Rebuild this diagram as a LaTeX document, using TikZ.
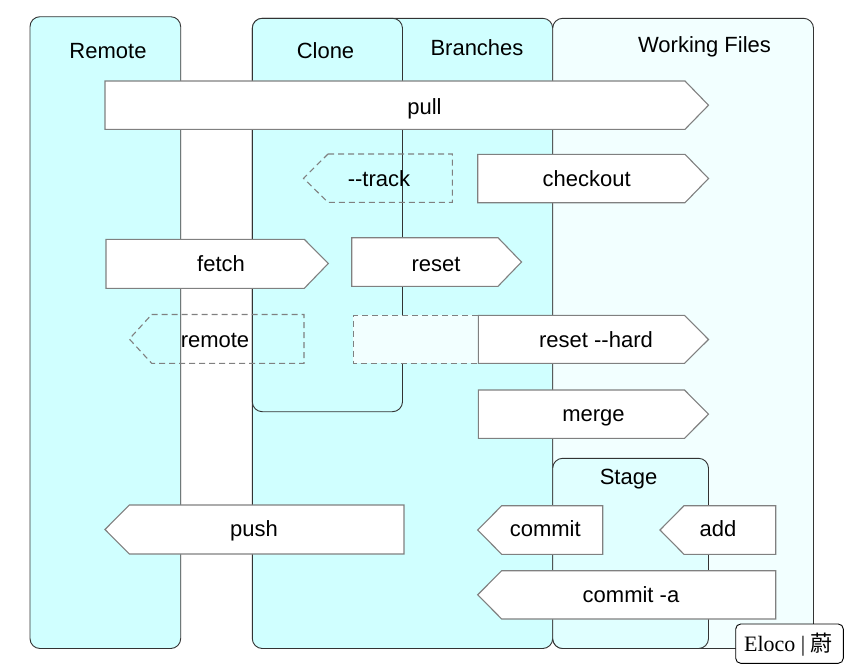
\documentclass[tikz,border=0pt]{standalone}
\usepackage{fontspec}
\setmainfont{Liberation Sans}
\newfontfamily\wmserif{Liberation Serif}
\newfontfamily\cjk{Noto Sans CJK SC}
\definecolor{areacyan}{HTML}{D0FFFF}
\definecolor{workfill}{HTML}{F2FFFF}
\definecolor{stagefill}{HTML}{E0FFFF}
\definecolor{arrowline}{HTML}{808080}
\definecolor{boxline}{HTML}{333333}
\tikzset{
  area/.style={draw=boxline, line width=0.9pt, rounded corners=10pt},
  cmd/.style={draw=arrowline, fill=white, line width=1.1pt, line join=miter},
  ghost/.style={draw=arrowline, line width=1.1pt, dash pattern=on 6pt off 4pt},
  lbl/.style={inner sep=0pt, anchor=base, font=\fontsize{22}{26}\selectfont},
}
\begin{document}
\begin{tikzpicture}[x=1pt,y=-1pt]
\useasboundingbox (0,0) rectangle (849,670);

% storage areas
\draw[area, fill=areacyan] (30,16.7) rectangle (180.7,648.5);
\draw[area, fill=areacyan] (252.3,18.3) rectangle (552.7,648.5);
\draw[area, fill=areacyan] (252.3,18.3) rectangle (402.5,411.7);
\draw[area, fill=workfill] (552.7,18.3) rectangle (813.5,648.5);
\draw[area, fill=stagefill] (552.7,458.3) rectangle (708.5,648.5);

\node[lbl] (remoteT) at (108,58.3) {Remote};
\node[lbl] (cloneT) at (325.5,58.3) {Clone};
\node[lbl] (branchT) at (477,55) {Branches};
\node[lbl] (workT) at (704.5,52.3) {Working Files};
\node[lbl] (stageT) at (628.5,484.3) {Stage};

% commands pointing right
\draw[cmd] (105,81) -- (685,81) -- (708.5,105.2) -- (685,129.3) -- (105,129.3) -- cycle;
\node[lbl] (pull) at (424.5,114.3) {pull};

\draw[cmd] (477.7,154.3) -- (685,154.3) -- (708.5,178.5) -- (685,202.7) -- (477.7,202.7) -- cycle;
\node[lbl] (checkout) at (586.7,186.7) {checkout};

\draw[cmd] (106,239.3) -- (304.3,239.3) -- (328.3,263.5) -- (304.3,288.3) -- (106,288.3) -- cycle;
\node[lbl] (fetch) at (221,271) {fetch};

\draw[cmd] (351.7,237.7) -- (498,237.7) -- (521.5,262) -- (498,286.3) -- (351.7,286.3) -- cycle;
\node[lbl] (reset) at (436,271) {reset};

\draw[ghost, fill=workfill] (478,315.3) -- (353.3,315.3) -- (353.3,363.3) -- (478,363.3);
\draw[cmd] (478.3,315.3) -- (684.5,315.3) -- (708.5,339.5) -- (684.5,363.3) -- (478.3,363.3) -- cycle;
\node[lbl] (resethard) at (596,347.3) {reset -{}-hard};

\draw[cmd] (478.3,390) -- (684.5,390) -- (708.5,414.2) -- (684.5,438.3) -- (478.3,438.3) -- cycle;
\node[lbl] (merge) at (593.5,421.7) {merge};

% optional commands (dashed)
\draw[ghost] (328,154) -- (452.3,154) -- (452.3,202.3) -- (328,202.3) -- (303.5,178.3) -- cycle;
\node[lbl] (track) at (379,186.7) {-{}-track};

\draw[ghost] (151.7,314.5) -- (304,314.5) -- (304,363.3) -- (151.7,363.3) -- (129.3,339) -- cycle;
\node[lbl] (remote) at (215,347.3) {remote};

% commands pointing left
\draw[cmd] (129.3,505) -- (404,505) -- (404,554) -- (129.3,554) -- (105,529.5) -- cycle;
\node[lbl] (push) at (254,536) {push};

\draw[cmd] (501.7,505.7) -- (602.7,505.7) -- (602.7,554.3) -- (501.7,554.3) -- (477.7,530) -- cycle;
\node[lbl] (commit) at (545.3,536.5) {commit};

\draw[cmd] (684,505.7) -- (775.7,505.7) -- (775.7,554.3) -- (684,554.3) -- (660,530) -- cycle;
\node[lbl] (add) at (718,536.5) {add};

\draw[cmd] (501.7,570.7) -- (775.7,570.7) -- (775.7,619) -- (501.7,619) -- (477.7,594.8) -- cycle;
\node[lbl] (commita) at (631,602.5) {commit -a};

% signature tag
\draw[draw=black, fill=white, line width=0.9pt, rounded corners=5pt] (735.7,624) rectangle (843.3,663.3);
\node[inner sep=0pt, anchor=base, font=\fontsize{22}{26}\selectfont] (sign) at (788.5,651) {\wmserif Eloco | \cjk 蔚};
\end{tikzpicture}
\end{document}
